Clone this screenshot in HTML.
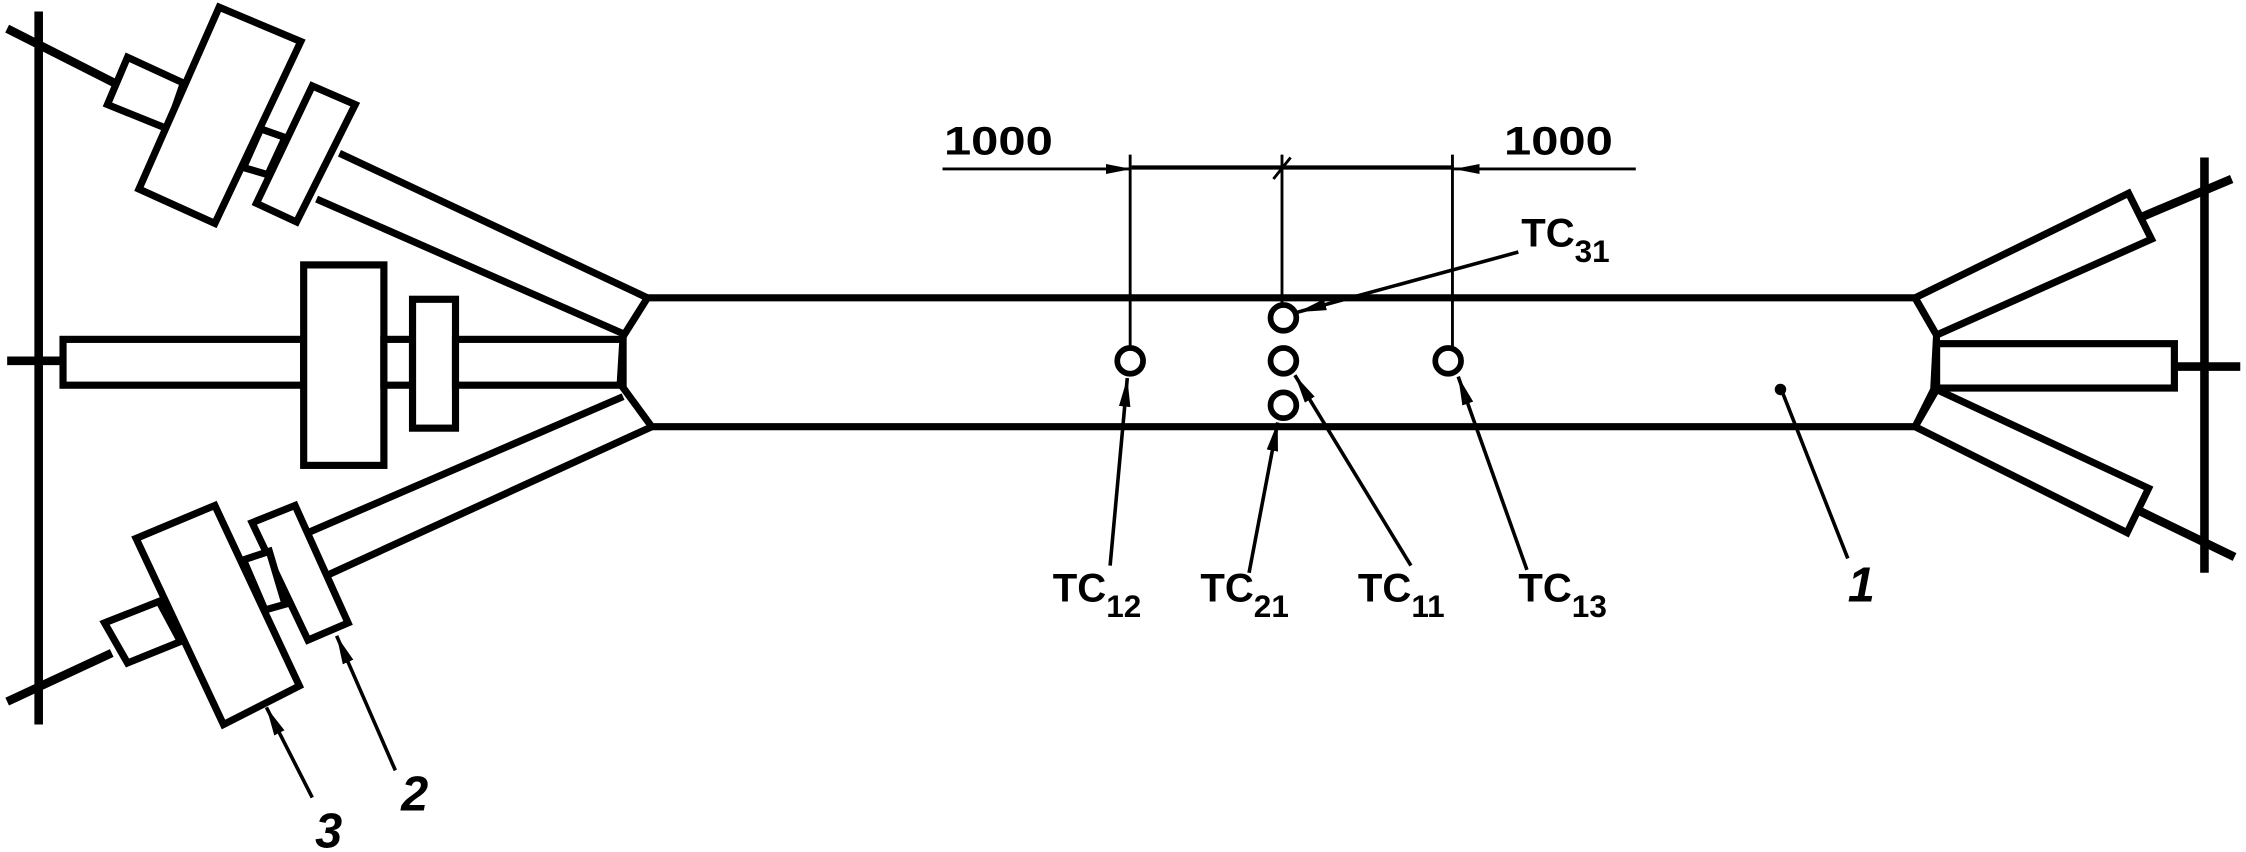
<!DOCTYPE html>
<html><head><meta charset="utf-8"><style>
html,body{margin:0;padding:0;background:#fff;}
svg{display:block;}
text{font-family:"Liberation Sans",sans-serif;font-weight:bold;fill:#000;}
</style></head><body>
<svg width="2246" height="852" viewBox="0 0 1568 595" preserveAspectRatio="none" xmlns="http://www.w3.org/2000/svg">
<defs>
<marker id="ar" viewBox="0 0 18 8" refX="18" refY="4" markerWidth="18" markerHeight="8" orient="auto" markerUnits="userSpaceOnUse">
<path d="M0,0.5 L18,4 L0,7.5 z" fill="#000"/></marker>
<marker id="ar2" viewBox="0 0 20 9" refX="20" refY="4.5" markerWidth="20" markerHeight="9" orient="auto" markerUnits="userSpaceOnUse">
<path d="M0,0.5 L20,4.5 L0,8.5 z" fill="#000"/></marker>
</defs>
<g fill="none" stroke="#000" stroke-width="5" stroke-linejoin="miter">
<line x1="27" y1="8" x2="27" y2="506" stroke-width="6"/>
<line x1="5" y1="252" x2="44" y2="252" stroke-width="6"/>
<line x1="5" y1="20" x2="80" y2="58" stroke-width="6"/>
<line x1="5" y1="490" x2="78" y2="456" stroke-width="6"/>
<polygon points="89,40 128,58 117,90 75,73" fill="#fff"/>
<polygon points="153,5 210,29 150,156 97,132" fill="#fff"/>
<polygon points="182,90 199,96 187,122 170,117" fill="#fff"/>
<polygon points="218,60 248,73 207,155 179,142" fill="#fff"/>
<polyline points="237,107 452,208"/>
<polyline points="221,139 435,233"/>
<rect x="44" y="237" width="168" height="32" fill="#fff"/>
<rect x="212" y="185" width="56" height="140" fill="#fff"/>
<rect x="268" y="237" width="20" height="32" fill="#fff"/>
<rect x="288" y="209" width="30" height="90" fill="#fff"/>
<rect x="318" y="237" width="117" height="32" fill="#fff"/>
<polyline points="215,372 435,277"/>
<polyline points="230,401 455,298"/>
<polygon points="176,365 206,353 243,435 215,447" fill="#fff"/>
<polygon points="170,391 188,385 199,422 185,426" fill="#fff"/>
<polygon points="95,376 150,353 209,479 156,506" fill="#fff"/>
<polygon points="73,435 111,420 126,448 89,463" fill="#fff"/>
<polyline points="452,208 435,235 433,268 455,298"/>
<line x1="452" y1="208" x2="1338" y2="208"/>
<line x1="455" y1="298" x2="1338" y2="298"/>
<polyline points="1337,208 1352,234 1350,272 1337,298"/>
<polygon points="1337,208 1486,135 1502,167 1352,234" fill="#fff"/>
<rect x="1352" y="240" width="166" height="31" fill="#fff"/>
<polygon points="1352,272 1500,341 1485,372 1337,298" fill="#fff"/>
<line x1="1539" y1="110" x2="1539" y2="400" stroke-width="6"/>
<line x1="1494" y1="152" x2="1558" y2="125" stroke-width="6"/>
<line x1="1518" y1="256" x2="1564" y2="256" stroke-width="6"/>
<line x1="1492" y1="356" x2="1560" y2="389" stroke-width="6"/>
</g>
<g stroke="#000" stroke-width="2" fill="none">
<line x1="658" y1="118" x2="790" y2="118" marker-end="url(#ar)"/>
<line x1="790" y1="117" x2="1015" y2="117" stroke-width="3"/>
<line x1="1142" y1="118" x2="1015" y2="118" marker-end="url(#ar)"/>
<line x1="789" y1="108" x2="789" y2="243"/>
<line x1="895" y1="108" x2="895" y2="212"/>
<line x1="1014" y1="108" x2="1014" y2="243"/>
<line x1="889" y1="125" x2="901" y2="110"/>
<line x1="775" y1="395" x2="787" y2="264" marker-end="url(#ar2)" stroke-width="2.5"/>
<line x1="872" y1="400" x2="892" y2="295" marker-end="url(#ar2)" stroke-width="2.5"/>
<line x1="985" y1="395" x2="904" y2="262" marker-end="url(#ar2)" stroke-width="2.5"/>
<line x1="1066" y1="398" x2="1018" y2="263" marker-end="url(#ar2)" stroke-width="2.5"/>
<line x1="1060" y1="176" x2="906" y2="218" marker-end="url(#ar2)" stroke-width="2.5"/>
<line x1="1290" y1="390" x2="1244" y2="273" stroke-width="2.5"/>
<line x1="276" y1="538" x2="235" y2="444" marker-end="url(#ar2)" stroke-width="2.5"/>
<line x1="218" y1="557" x2="186" y2="494" marker-end="url(#ar2)" stroke-width="2.5"/>
</g>
<circle cx="1243" cy="272" r="4" fill="#000"/>
<g fill="#fff" stroke="#000" stroke-width="4">
<circle cx="789" cy="252" r="9"/>
<circle cx="896" cy="222" r="9"/>
<circle cx="896" cy="252" r="9"/>
<circle cx="896" cy="283" r="9"/>
<circle cx="1011" cy="252" r="9"/>
</g>
<g font-size="28">
<text x="659" y="108" textLength="76" lengthAdjust="spacingAndGlyphs">1000</text>
<text x="1050" y="108" textLength="76" lengthAdjust="spacingAndGlyphs">1000</text>
<text x="1062" y="172">TC<tspan font-size="22" dy="11">31</tspan></text>
<text x="735" y="420">TC<tspan font-size="22" dy="11">12</tspan></text>
<text x="838" y="420">TC<tspan font-size="22" dy="11">21</tspan></text>
<text x="948" y="420">TC<tspan font-size="22" dy="11">11</tspan></text>
<text x="1060" y="420">TC<tspan font-size="22" dy="11">13</tspan></text>
</g>
<g font-size="34" font-style="italic">
<text x="1290" y="420">1</text>
<text x="280" y="566">2</text>
<text x="220" y="592">3</text>
</g>
</svg>
</body></html>
